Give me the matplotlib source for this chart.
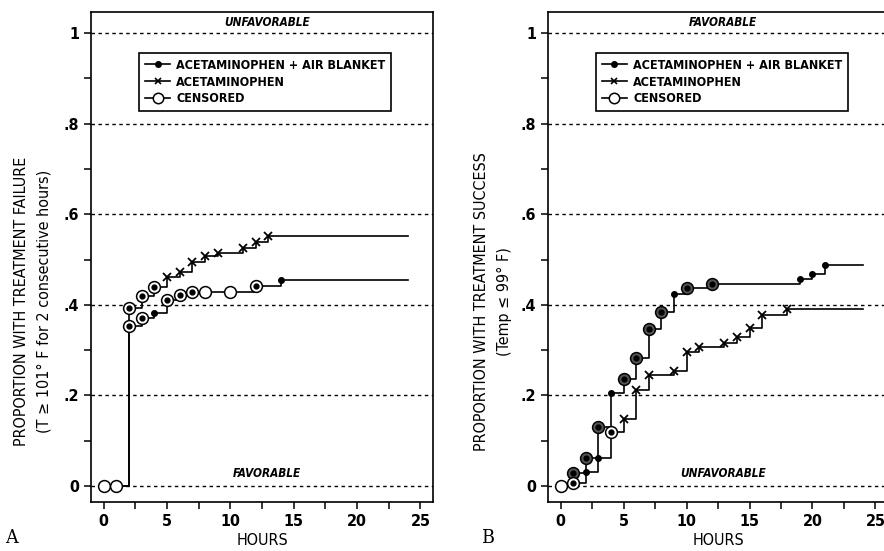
import numpy as np
import matplotlib
matplotlib.use('Agg')
import matplotlib.pyplot as plt
from matplotlib.lines import Line2D

plt.rcParams['font.family'] = ['DejaVu Sans']
plt.rcParams['font.stretch'] = 'condensed'

# panel A - treatment failure
a_blanket_t = [0, 2, 3, 4, 5, 6, 7, 12, 14]
a_blanket_p = [0, .354, .372, .381, .411, .422, .429, .441, .454]
a_blanket_mk = ['', 'c', 'c', 'd', 'c', 'c', 'c', 'c', 'd']
a_acet_t = [0, 2, 3, 4, 5, 6, 7, 8, 9, 11, 12, 13]
a_acet_p = [0, .392, .42, .44, .461, .472, .494, .507, .514, .526, .538, .552]
a_acet_mk = ['', 'c', 'c', 'c', 'x', 'x', 'x', 'x', 'x', 'x', 'x', 'x']
a_cens_t = [0, 1, 8, 10]
a_cens_p = [0, 0, .429, .429]

# panel B - treatment success
b_blanket_t = [0, 1, 2, 3, 4, 5, 6, 7, 8, 9, 10, 12, 19, 20, 21]
b_blanket_p = [0, .03, .061, .131, .206, .236, .283, .346, .384, .425, .438, .447, .457, .467, .489]
b_blanket_mk = ['', 'c', 'c', 'c', 'd', 'c', 'c', 'c', 'c', 'd', 'c', 'c', 'd', 'd', 'd']
b_acet_t = [0, 1, 2, 3, 4, 5, 6, 7, 9, 10, 11, 13, 14, 15, 16, 18]
b_acet_p = [0, .006, .032, .061, .12, .149, .213, .246, .255, .295, .307, .316, .328, .348, .377, .39]
b_acet_mk = ['', 'c', 'd', 'd', 'c', 'x', 'x', 'x', 'x', 'x', 'x', 'x', 'x', 'x', 'x', 'x']
b_cens_t = [0]
b_cens_p = [0]

t_end = 24
yticks = [0, .2, .4, .6, .8, 1]
ytick_labels = ['0', '.2', '.4', '.6', '.8', '1']
xticks = [0, 5, 10, 15, 20, 25]

legend_labels = ['ACETAMINOPHEN + AIR BLANKET', 'ACETAMINOPHEN', 'CENSORED']


def draw_curve(ax, t, p, mk, dark=False):
    ax.step(list(t) + [t_end], list(p) + [p[-1]], where='post', color='black', lw=1.2, zorder=3)
    for ti, pi, m in zip(t, p, mk):
        if m == 'c':
            ax.plot(ti, pi, 'o', ms=8.5, mfc='#555555' if dark else 'white', mec='black', mew=1.1, zorder=4)
            ax.plot(ti, pi, 'o', ms=3.5, color='black', zorder=5)
        elif m == 'd':
            ax.plot(ti, pi, 'o', ms=4, color='black', zorder=5)
        elif m == 'x':
            ax.plot(ti, pi, 'x', ms=6, mew=1.3, color='black', zorder=5)


def setup(ax, ylabel, label_x, top_text, bottom_text):
    ax.set_xlim(-1, 26)
    ax.set_ylim(-0.035, 1.046)
    for y in yticks:
        ax.axhline(y, color='black', lw=1, ls=(0, (2.5, 2.5)), zorder=1)
    ax.set_yticks(yticks)
    ax.set_yticklabels(ytick_labels)
    ax.set_yticks(np.arange(.1, 1, .2), minor=True)
    ax.set_xticks(xticks)
    ax.set_xticks(np.arange(2.5, 25, 5), minor=True)
    ax.tick_params(which='both', direction='out', length=5, width=1.1, labelsize=11.5)
    for lab in ax.get_xticklabels() + ax.get_yticklabels():
        lab.set_fontweight('bold')
    for s in ax.spines.values():
        s.set_linewidth(1.2)
    ax.set_xlabel('HOURS', fontsize=11.5, labelpad=3)
    ax.set_ylabel(ylabel, fontsize=11.5, linespacing=1.6)
    ax.yaxis.set_label_coords(label_x, 0.41)
    ax.text(12.9, 1.023, top_text, ha='center', va='center', fontsize=8.5, style='italic', fontweight='bold')
    ax.text(12.9, 0.027, bottom_text, ha='center', va='center', fontsize=8.5, style='italic', fontweight='bold')
    handles = [Line2D([], [], color='black', lw=1.2, marker='o', ms=4),
               Line2D([], [], color='black', lw=1.2, marker='x', ms=5, mew=1.2),
               Line2D([], [], color='black', lw=1.2, marker='o', ms=7.5, mfc='white', mew=1.1)]
    leg = ax.legend(handles, legend_labels, loc='upper left', bbox_to_anchor=(0.123, 0.929),
                    fancybox=False, edgecolor='black', framealpha=1, fontsize=9,
                    handlelength=2.0, handletextpad=0.5, borderpad=0.45, labelspacing=0.3)
    leg.get_frame().set_linewidth(1.2)
    leg.set_zorder(6)
    for txt in leg.get_texts():
        txt.set_fontweight('bold')


fig = plt.figure(figsize=(8.84, 5.51), dpi=100)

ax1 = fig.add_axes([0.103, 0.089, 0.387, 0.889])
draw_curve(ax1, a_blanket_t, a_blanket_p, a_blanket_mk)
draw_curve(ax1, a_acet_t, a_acet_p, a_acet_mk)
ax1.plot(a_cens_t, a_cens_p, 'o', ms=8.5, mfc='white', mec='black', mew=1.1, zorder=4)
setup(ax1, 'PROPORTION WITH TREATMENT FAILURE\n(T \u2265 101\u00b0 F for 2 consecutive hours)', -0.117,
      'UNFAVORABLE', 'FAVORABLE')

ax2 = fig.add_axes([0.620, 0.089, 0.3845, 0.889])
draw_curve(ax2, b_blanket_t, b_blanket_p, b_blanket_mk, dark=True)
draw_curve(ax2, b_acet_t, b_acet_p, b_acet_mk)
ax2.plot(b_cens_t, b_cens_p, 'o', ms=8.5, mfc='white', mec='black', mew=1.1, zorder=4)
setup(ax2, 'PROPORTION WITH TREATMENT SUCCESS\n(Temp \u2264 99\u00b0 F)', -0.107,
      'FAVORABLE', 'UNFAVORABLE')

fig.text(0.006, 0.008, 'A', fontsize=14, family='DejaVu Serif', va='bottom')
fig.text(0.545, 0.008, 'B', fontsize=14, family='DejaVu Serif', va='bottom')

fig.savefig('out.png', dpi=100)
